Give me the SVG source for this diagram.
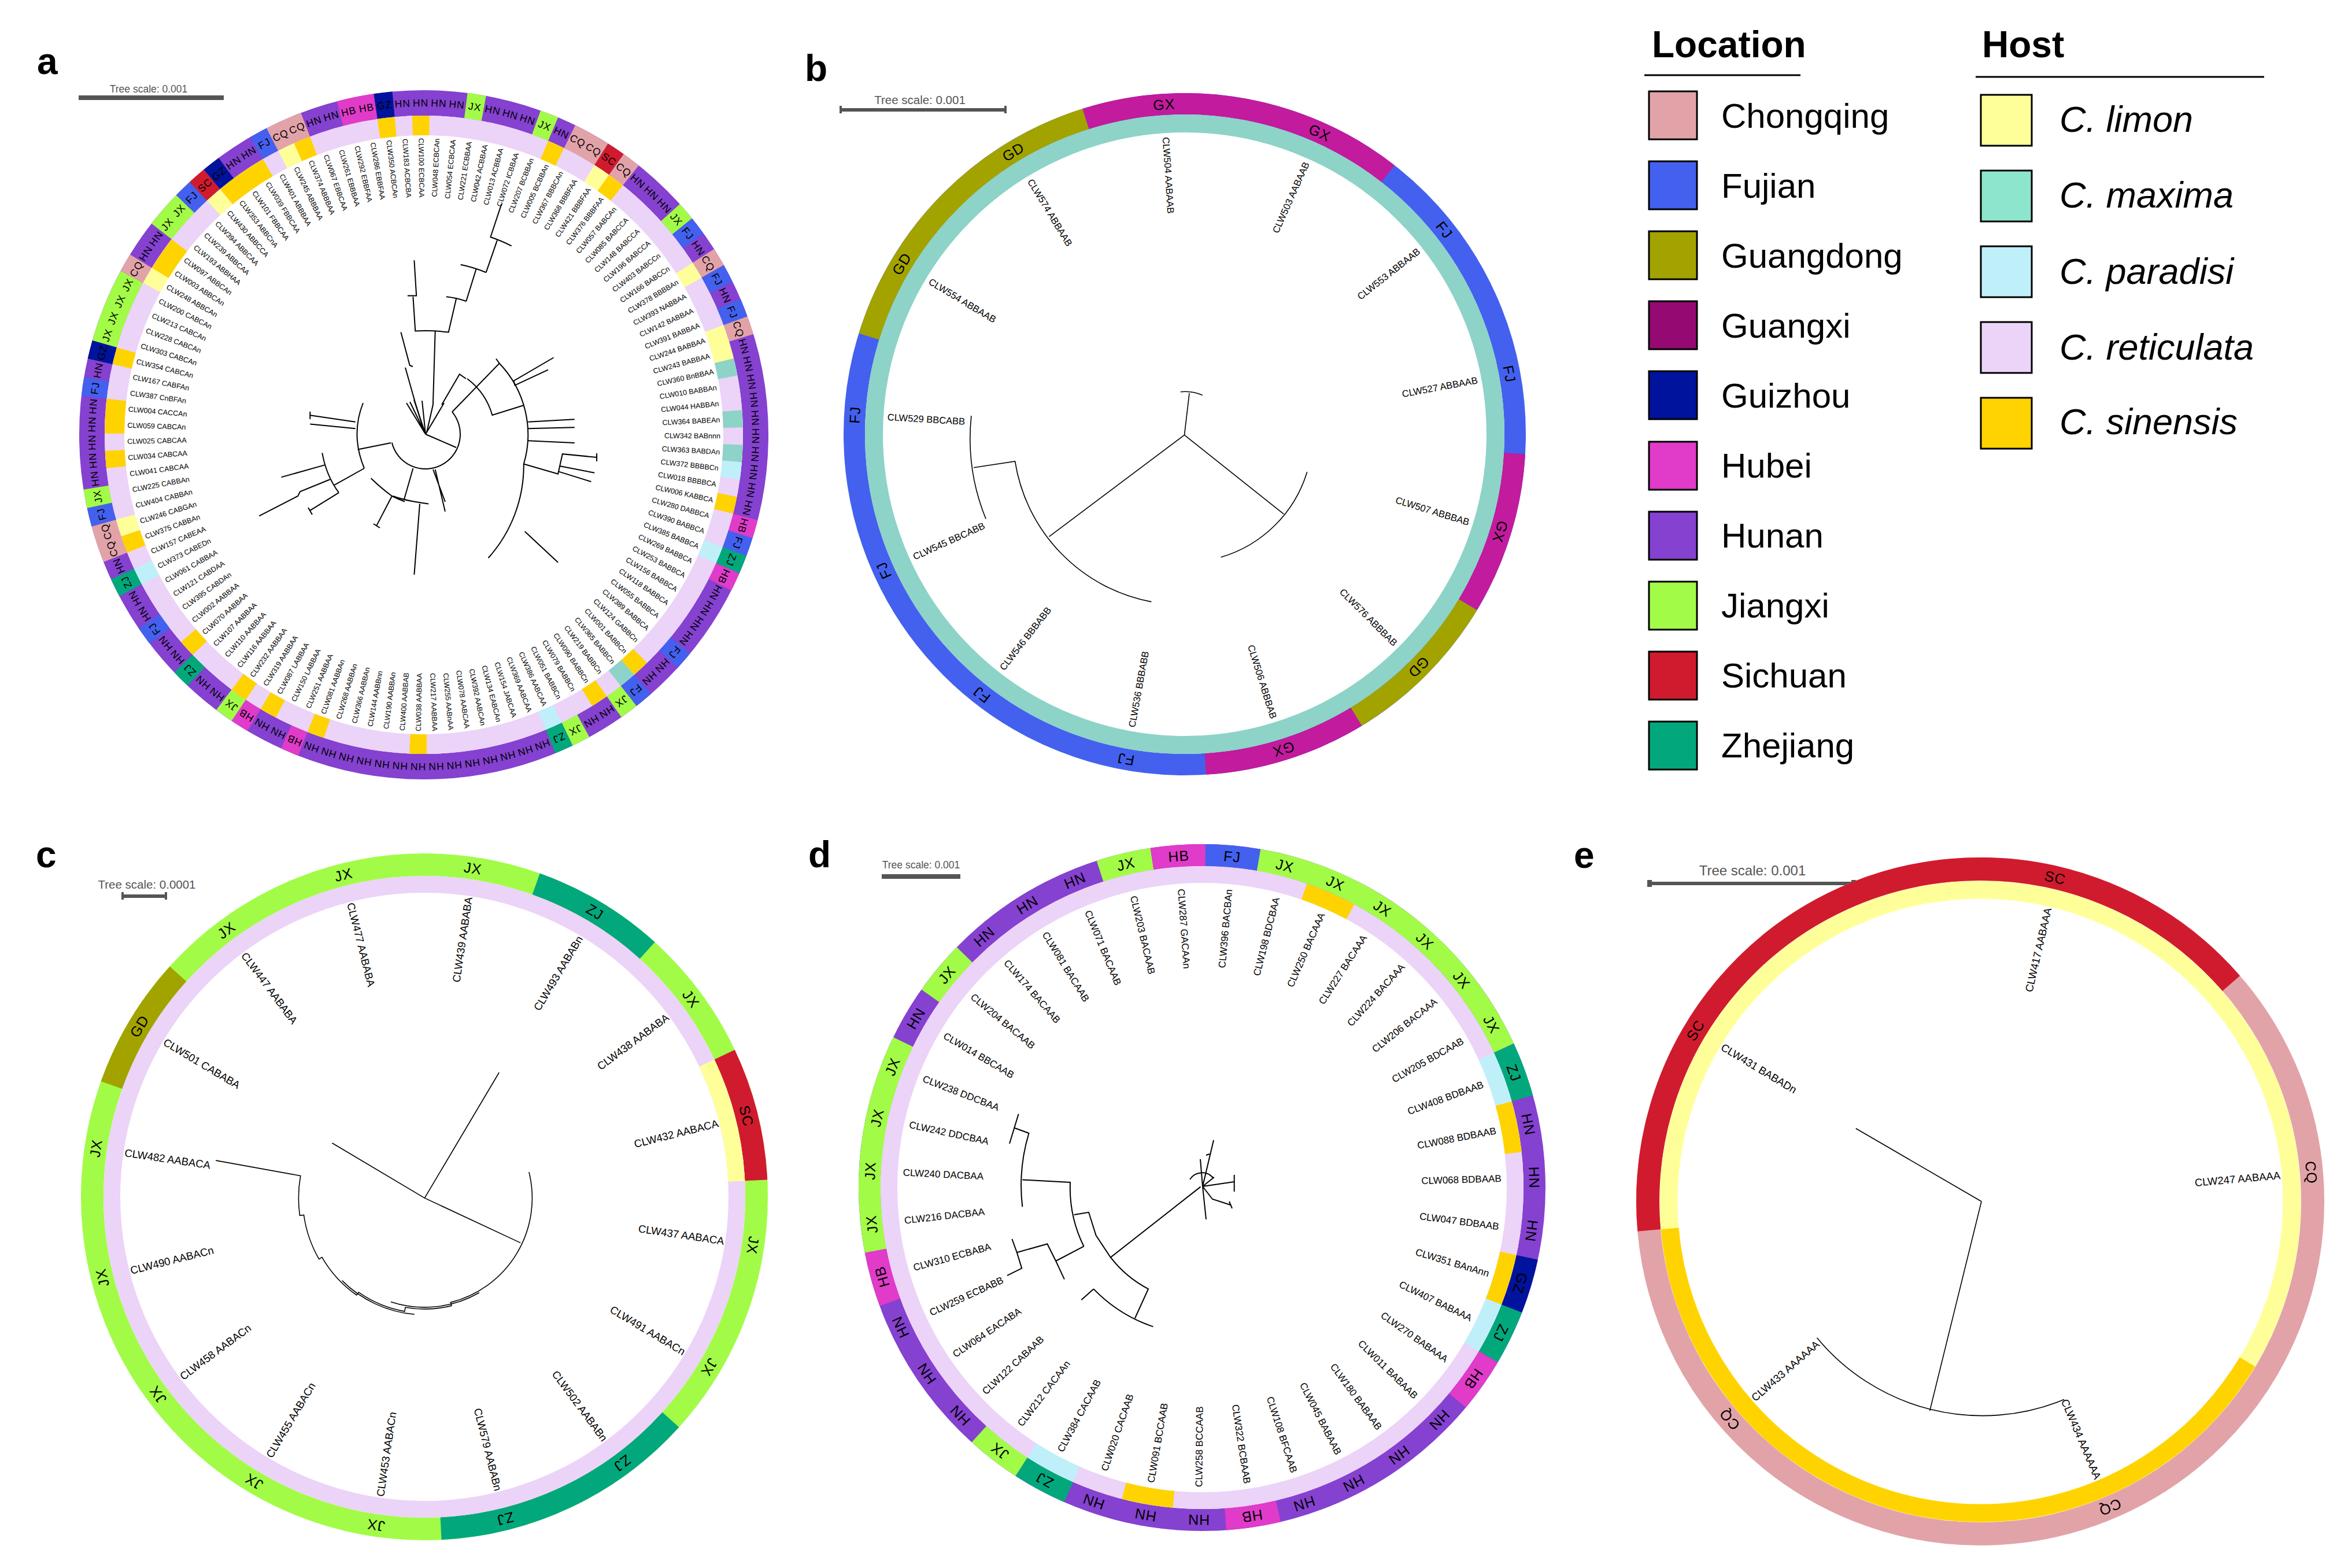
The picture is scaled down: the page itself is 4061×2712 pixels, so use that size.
<svg xmlns="http://www.w3.org/2000/svg" width="4061" height="2712" viewBox="0 0 4061 2712">
<style>
text{font-family:"Liberation Sans",Arial,Helvetica,sans-serif;fill:#000}
.la{font-size:12.5px;dominant-baseline:central}
.lb{font-size:16.5px;dominant-baseline:central}
.lc{font-size:18.5px;dominant-baseline:central}
.ld{font-size:17px;dominant-baseline:central}
.r{text-anchor:end}
.ra{font-size:17.5px;text-anchor:middle;dominant-baseline:central;letter-spacing:1px}
.rb{font-size:25px;text-anchor:middle;dominant-baseline:central;letter-spacing:1px}
.br{fill:none;stroke:#000;stroke-width:2}
.bt{fill:none;stroke:#000;stroke-width:1.6}
circle{fill:none}
.cq{stroke:#E2A3A8}.fj{stroke:#4361EE}.gd{stroke:#A3A300}.gx{stroke:#C21B9D}.gz{stroke:#00139C}
.hb{stroke:#E03BC9}.hn{stroke:#8541D0}.jx{stroke:#A2FC47}.sc{stroke:#D01B2E}.zj{stroke:#02A87B}
.li{stroke:#FFFF99}.ma{stroke:#8DD3C7}.pa{stroke:#BFF0FA}.re{stroke:#ECD3F8}.si{stroke:#FFD300}
.ts{fill:#555;text-anchor:middle}
.pl{font-size:64px;font-weight:bold}
.lg{font-size:60px}
.hg{font-size:63px;font-style:italic}
.sw{stroke:#000;stroke-width:3}
</style>

<g id="labels">
<text class="pl" x="64" y="128">a</text>
<text class="pl" x="1392" y="140">b</text>
<text class="pl" x="62" y="1500">c</text>
<text class="pl" x="1398" y="1500">d</text>
<text class="pl" x="2722" y="1501">e</text>
<text class="ts" x="257" y="160" font-size="17.5">Tree scale: 0.001</text>
<rect x="136" y="165" width="251" height="8" fill="#555"/>
<text class="ts" x="1591" y="180" font-size="20.5">Tree scale: 0.001</text>
<rect x="1453" y="187" width="288" height="6" fill="#555"/>
<rect x="1452" y="183" width="4" height="13" fill="#555"/><rect x="1737" y="183" width="4" height="13" fill="#555"/>
<text class="ts" x="254" y="1537" font-size="20.5">Tree scale: 0.0001</text>
<rect x="211" y="1547" width="77" height="6" fill="#555"/>
<rect x="210" y="1543" width="4" height="13" fill="#555"/><rect x="285" y="1543" width="4" height="13" fill="#555"/>
<text class="ts" x="1593" y="1502" font-size="17.5">Tree scale: 0.001</text>
<rect x="1525" y="1512" width="136" height="8" fill="#555"/>
<text class="ts" x="3031" y="1514" font-size="24">Tree scale: 0.001</text>
<rect x="2852" y="1525" width="355" height="6" fill="#555"/>
<rect x="2849" y="1522" width="8" height="12" fill="#555"/><rect x="3202" y="1522" width="8" height="12" fill="#555"/>
</g>

<g id="legend">
<text x="2857" y="99" font-size="64" font-weight="bold">Location</text>
<line x1="2844" y1="130" x2="3114" y2="130" stroke="#000" stroke-width="3"/>
<text x="3428" y="99" font-size="64" font-weight="bold">Host</text>
<line x1="3417" y1="133" x2="3916" y2="133" stroke="#000" stroke-width="3"/>
<rect class="sw" x="2852" y="158" width="83" height="83" fill="#E2A3A8"/><text class="lg" x="2977" y="221">Chongqing</text>
<rect class="sw" x="2852" y="279" width="83" height="83" fill="#4361EE"/><text class="lg" x="2977" y="342">Fujian</text>
<rect class="sw" x="2852" y="400" width="83" height="83" fill="#A3A300"/><text class="lg" x="2977" y="463">Guangdong</text>
<rect class="sw" x="2852" y="521" width="83" height="83" fill="#940A72"/><text class="lg" x="2977" y="584">Guangxi</text>
<rect class="sw" x="2852" y="642" width="83" height="83" fill="#00139C"/><text class="lg" x="2977" y="705">Guizhou</text>
<rect class="sw" x="2852" y="764" width="83" height="83" fill="#E03BC9"/><text class="lg" x="2977" y="826">Hubei</text>
<rect class="sw" x="2852" y="885" width="83" height="83" fill="#8541D0"/><text class="lg" x="2977" y="947">Hunan</text>
<rect class="sw" x="2852" y="1006" width="83" height="83" fill="#A2FC47"/><text class="lg" x="2977" y="1068">Jiangxi</text>
<rect class="sw" x="2852" y="1127" width="83" height="83" fill="#D01B2E"/><text class="lg" x="2977" y="1189">Sichuan</text>
<rect class="sw" x="2852" y="1248" width="83" height="83" fill="#02A87B"/><text class="lg" x="2977" y="1310">Zhejiang</text>
<rect class="sw" x="3426" y="164" width="88" height="88" fill="#FFFF99"/><text class="hg" x="3562" y="228">C. limon</text>
<rect class="sw" x="3426" y="295" width="88" height="88" fill="#8EE5CD"/><text class="hg" x="3562" y="359">C. maxima</text>
<rect class="sw" x="3426" y="426" width="88" height="88" fill="#BFF0FA"/><text class="hg" x="3562" y="491">C. paradisi</text>
<rect class="sw" x="3426" y="557" width="88" height="88" fill="#ECD3F8"/><text class="hg" x="3562" y="622">C. reticulata</text>
<rect class="sw" x="3426" y="688" width="88" height="88" fill="#FFD300"/><text class="hg" x="3562" y="751">C. sinensis</text>
</g>

<g id="panel-a" transform="translate(733 752)">
<g stroke-width="44">
<circle class="hn" r="574"/>
<circle class="gz" r="574" pathLength="360" stroke-dasharray="3.13 720" transform="rotate(-98.365)"/>
<circle class="jx" r="574" pathLength="360" stroke-dasharray="3.13 720" transform="rotate(-82.713)"/>
<circle class="jx" r="574" pathLength="360" stroke-dasharray="3.13 720" transform="rotate(-70.191)"/>
<circle class="cq" r="574" pathLength="360" stroke-dasharray="6.261 720" transform="rotate(-63.931)"/>
<circle class="sc" r="574" pathLength="360" stroke-dasharray="3.13 720" transform="rotate(-57.670)"/>
<circle class="cq" r="574" pathLength="360" stroke-dasharray="3.13 720" transform="rotate(-54.539)"/>
<circle class="jx" r="574" pathLength="360" stroke-dasharray="3.13 720" transform="rotate(-42.018)"/>
<circle class="fj" r="574" pathLength="360" stroke-dasharray="3.13 720" transform="rotate(-38.887)"/>
<circle class="cq" r="574" pathLength="360" stroke-dasharray="3.13 720" transform="rotate(-32.627)"/>
<circle class="fj" r="574" pathLength="360" stroke-dasharray="3.13 720" transform="rotate(-29.496)"/>
<circle class="fj" r="574" pathLength="360" stroke-dasharray="3.13 720" transform="rotate(-23.235)"/>
<circle class="cq" r="574" pathLength="360" stroke-dasharray="3.13 720" transform="rotate(-20.105)"/>
<circle class="hb" r="574" pathLength="360" stroke-dasharray="3.13 720" transform="rotate(14.329)"/>
<circle class="fj" r="574" pathLength="360" stroke-dasharray="3.13 720" transform="rotate(17.460)"/>
<circle class="zj" r="574" pathLength="360" stroke-dasharray="3.13 720" transform="rotate(20.591)"/>
<circle class="hb" r="574" pathLength="360" stroke-dasharray="3.13 720" transform="rotate(23.721)"/>
<circle class="fj" r="574" pathLength="360" stroke-dasharray="3.13 720" transform="rotate(39.373)"/>
<circle class="fj" r="574" pathLength="360" stroke-dasharray="3.13 720" transform="rotate(48.765)"/>
<circle class="jx" r="574" pathLength="360" stroke-dasharray="3.13 720" transform="rotate(51.895)"/>
<circle class="jx" r="574" pathLength="360" stroke-dasharray="3.13 720" transform="rotate(61.286)"/>
<circle class="zj" r="574" pathLength="360" stroke-dasharray="3.13 720" transform="rotate(64.417)"/>
<circle class="hb" r="574" pathLength="360" stroke-dasharray="3.13 720" transform="rotate(111.372)"/>
<circle class="hb" r="574" pathLength="360" stroke-dasharray="3.13 720" transform="rotate(120.763)"/>
<circle class="jx" r="574" pathLength="360" stroke-dasharray="3.13 720" transform="rotate(123.893)"/>
<circle class="zj" r="574" pathLength="360" stroke-dasharray="3.13 720" transform="rotate(133.285)"/>
<circle class="fj" r="574" pathLength="360" stroke-dasharray="3.13 720" transform="rotate(142.676)"/>
<circle class="zj" r="574" pathLength="360" stroke-dasharray="3.13 720" transform="rotate(152.067)"/>
<circle class="cq" r="574" pathLength="360" stroke-dasharray="6.261 720" transform="rotate(158.328)"/>
<circle class="fj" r="574" pathLength="360" stroke-dasharray="3.13 720" transform="rotate(164.589)"/>
<circle class="jx" r="574" pathLength="360" stroke-dasharray="3.13 720" transform="rotate(167.719)"/>
<circle class="fj" r="574" pathLength="360" stroke-dasharray="3.13 720" transform="rotate(186.501)"/>
<circle class="gz" r="574" pathLength="360" stroke-dasharray="3.13 720" transform="rotate(192.763)"/>
<circle class="jx" r="574" pathLength="360" stroke-dasharray="12.522 720" transform="rotate(195.893)"/>
<circle class="cq" r="574" pathLength="360" stroke-dasharray="3.13 720" transform="rotate(208.414)"/>
<circle class="jx" r="574" pathLength="360" stroke-dasharray="6.261 720" transform="rotate(217.806)"/>
<circle class="fj" r="574" pathLength="360" stroke-dasharray="3.13 720" transform="rotate(224.067)"/>
<circle class="sc" r="574" pathLength="360" stroke-dasharray="3.13 720" transform="rotate(227.197)"/>
<circle class="gz" r="574" pathLength="360" stroke-dasharray="3.13 720" transform="rotate(230.328)"/>
<circle class="fj" r="574" pathLength="360" stroke-dasharray="3.13 720" transform="rotate(239.719)"/>
<circle class="cq" r="574" pathLength="360" stroke-dasharray="6.261 720" transform="rotate(242.849)"/>
<circle class="hb" r="574" pathLength="360" stroke-dasharray="6.261 720" transform="rotate(255.371)"/>
</g>
<g stroke-width="34">
<circle class="re" r="535"/>
<circle class="si" r="535" pathLength="360" stroke-dasharray="3.13 720" transform="rotate(-98.365)"/>
<circle class="si" r="535" pathLength="360" stroke-dasharray="3.13 720" transform="rotate(-92.104)"/>
<circle class="si" r="535" pathLength="360" stroke-dasharray="3.13 720" transform="rotate(-67.061)"/>
<circle class="si" r="535" pathLength="360" stroke-dasharray="3.13 720" transform="rotate(-54.539)"/>
<circle class="si" r="535" pathLength="360" stroke-dasharray="3.13 720" transform="rotate(11.199)"/>
<circle class="si" r="535" pathLength="360" stroke-dasharray="3.13 720" transform="rotate(45.634)"/>
<circle class="si" r="535" pathLength="360" stroke-dasharray="3.13 720" transform="rotate(55.025)"/>
<circle class="si" r="535" pathLength="360" stroke-dasharray="3.13 720" transform="rotate(89.459)"/>
<circle class="si" r="535" pathLength="360" stroke-dasharray="3.13 720" transform="rotate(108.241)"/>
<circle class="si" r="535" pathLength="360" stroke-dasharray="3.13 720" transform="rotate(117.632)"/>
<circle class="si" r="535" pathLength="360" stroke-dasharray="3.13 720" transform="rotate(123.893)"/>
<circle class="si" r="535" pathLength="360" stroke-dasharray="3.13 720" transform="rotate(136.415)"/>
<circle class="si" r="535" pathLength="360" stroke-dasharray="3.13 720" transform="rotate(158.328)"/>
<circle class="si" r="535" pathLength="360" stroke-dasharray="3.13 720" transform="rotate(173.980)"/>
<circle class="si" r="535" pathLength="360" stroke-dasharray="6.261 720" transform="rotate(180.241)"/>
<circle class="si" r="535" pathLength="360" stroke-dasharray="3.13 720" transform="rotate(192.763)"/>
<circle class="si" r="535" pathLength="360" stroke-dasharray="6.261 720" transform="rotate(211.545)"/>
<circle class="si" r="535" pathLength="360" stroke-dasharray="9.391 720" transform="rotate(230.328)"/>
<circle class="si" r="535" pathLength="360" stroke-dasharray="3.13 720" transform="rotate(245.980)"/>
<circle class="li" r="535" pathLength="360" stroke-dasharray="3.13 720" transform="rotate(-57.670)"/>
<circle class="li" r="535" pathLength="360" stroke-dasharray="3.13 720" transform="rotate(-32.627)"/>
<circle class="li" r="535" pathLength="360" stroke-dasharray="6.261 720" transform="rotate(-20.105)"/>
<circle class="li" r="535" pathLength="360" stroke-dasharray="3.13 720" transform="rotate(161.458)"/>
<circle class="li" r="535" pathLength="360" stroke-dasharray="3.13 720" transform="rotate(208.414)"/>
<circle class="li" r="535" pathLength="360" stroke-dasharray="3.13 720" transform="rotate(227.197)"/>
<circle class="li" r="535" pathLength="360" stroke-dasharray="3.13 720" transform="rotate(242.849)"/>
<circle class="ma" r="535" pathLength="360" stroke-dasharray="3.13 720" transform="rotate(-13.844)"/>
<circle class="ma" r="535" pathLength="360" stroke-dasharray="3.13 720" transform="rotate(-4.453)"/>
<circle class="ma" r="535" pathLength="360" stroke-dasharray="3.13 720" transform="rotate(1.808)"/>
<circle class="ma" r="535" pathLength="360" stroke-dasharray="3.13 720" transform="rotate(48.765)"/>
<circle class="pa" r="535" pathLength="360" stroke-dasharray="3.13 720" transform="rotate(4.938)"/>
<circle class="pa" r="535" pathLength="360" stroke-dasharray="3.13 720" transform="rotate(20.591)"/>
<circle class="pa" r="535" pathLength="360" stroke-dasharray="3.13 720" transform="rotate(64.417)"/>
<circle class="pa" r="535" pathLength="360" stroke-dasharray="3.13 720" transform="rotate(152.067)"/>
</g>
<g id="leaves-a">
<g transform="rotate(-96.80)"><text class="la" transform="translate(513 0) rotate(180)">CLW350 ACBCAn</text><text class="ra" transform="translate(574 0) rotate(90)">GZ</text></g>
<g transform="rotate(-93.67)"><text class="la" transform="translate(513 0) rotate(180)">CLW183 ACBCBA</text><text class="ra" transform="translate(574 0) rotate(90)">HN</text></g>
<g transform="rotate(-90.54)"><text class="la" transform="translate(513 0) rotate(180)">CLW100 ECBCAA</text><text class="ra" transform="translate(574 0) rotate(90)">HN</text></g>
<g transform="rotate(-87.41)"><text class="la r" transform="translate(513 0)">CLW048 ECBCAn</text><text class="ra" transform="translate(574 0) rotate(90)">HN</text></g>
<g transform="rotate(-84.28)"><text class="la r" transform="translate(513 0)">CLW054 ECBCAA</text><text class="ra" transform="translate(574 0) rotate(90)">HN</text></g>
<g transform="rotate(-81.15)"><text class="la r" transform="translate(513 0)">CLW221 ECBBAA</text><text class="ra" transform="translate(574 0) rotate(90)">JX</text></g>
<g transform="rotate(-78.02)"><text class="la r" transform="translate(513 0)">CLW042 ACBBAA</text><text class="ra" transform="translate(574 0) rotate(90)">HN</text></g>
<g transform="rotate(-74.89)"><text class="la r" transform="translate(513 0)">CLW013 ACBBAA</text><text class="ra" transform="translate(574 0) rotate(90)">HN</text></g>
<g transform="rotate(-71.76)"><text class="la r" transform="translate(513 0)">CLW072 ICBBAA</text><text class="ra" transform="translate(574 0) rotate(90)">HN</text></g>
<g transform="rotate(-68.63)"><text class="la r" transform="translate(513 0)">CLW207 BCBBAn</text><text class="ra" transform="translate(574 0) rotate(90)">JX</text></g>
<g transform="rotate(-65.50)"><text class="la r" transform="translate(513 0)">CLW005 BCBBAn</text><text class="ra" transform="translate(574 0) rotate(90)">HN</text></g>
<g transform="rotate(-62.37)"><text class="la r" transform="translate(513 0)">CLW367 BBBCAn</text><text class="ra" transform="translate(574 0) rotate(90)">CQ</text></g>
<g transform="rotate(-59.24)"><text class="la r" transform="translate(513 0)">CLW368 BBBFAA</text><text class="ra" transform="translate(574 0) rotate(90)">CQ</text></g>
<g transform="rotate(-56.10)"><text class="la r" transform="translate(513 0)">CLW421 BBBFAA</text><text class="ra" transform="translate(574 0) rotate(90)">SC</text></g>
<g transform="rotate(-52.97)"><text class="la r" transform="translate(513 0)">CLW376 BBBFAA</text><text class="ra" transform="translate(574 0) rotate(90)">CQ</text></g>
<g transform="rotate(-49.84)"><text class="la r" transform="translate(513 0)">CLW057 BABCAn</text><text class="ra" transform="translate(574 0) rotate(90)">HN</text></g>
<g transform="rotate(-46.71)"><text class="la r" transform="translate(513 0)">CLW085 BABCCA</text><text class="ra" transform="translate(574 0) rotate(90)">HN</text></g>
<g transform="rotate(-43.58)"><text class="la r" transform="translate(513 0)">CLW148 BABCCA</text><text class="ra" transform="translate(574 0) rotate(90)">HN</text></g>
<g transform="rotate(-40.45)"><text class="la r" transform="translate(513 0)">CLW196 BABCCA</text><text class="ra" transform="translate(574 0) rotate(90)">JX</text></g>
<g transform="rotate(-37.32)"><text class="la r" transform="translate(513 0)">CLW403 BABCCn</text><text class="ra" transform="translate(574 0) rotate(90)">FJ</text></g>
<g transform="rotate(-34.19)"><text class="la r" transform="translate(513 0)">CLW166 BABCCn</text><text class="ra" transform="translate(574 0) rotate(90)">HN</text></g>
<g transform="rotate(-31.06)"><text class="la r" transform="translate(513 0)">CLW378 BBBBAn</text><text class="ra" transform="translate(574 0) rotate(90)">CQ</text></g>
<g transform="rotate(-27.93)"><text class="la r" transform="translate(513 0)">CLW393 NABBAA</text><text class="ra" transform="translate(574 0) rotate(90)">FJ</text></g>
<g transform="rotate(-24.80)"><text class="la r" transform="translate(513 0)">CLW142 BABBAA</text><text class="ra" transform="translate(574 0) rotate(90)">HN</text></g>
<g transform="rotate(-21.67)"><text class="la r" transform="translate(513 0)">CLW391 BABBAA</text><text class="ra" transform="translate(574 0) rotate(90)">FJ</text></g>
<g transform="rotate(-18.54)"><text class="la r" transform="translate(513 0)">CLW244 BABBAA</text><text class="ra" transform="translate(574 0) rotate(90)">CQ</text></g>
<g transform="rotate(-15.41)"><text class="la r" transform="translate(513 0)">CLW243 BABBAA</text><text class="ra" transform="translate(574 0) rotate(90)">HN</text></g>
<g transform="rotate(-12.28)"><text class="la r" transform="translate(513 0)">CLW360 BnBBAA</text><text class="ra" transform="translate(574 0) rotate(90)">HN</text></g>
<g transform="rotate(-9.15)"><text class="la r" transform="translate(513 0)">CLW010 BABBAn</text><text class="ra" transform="translate(574 0) rotate(90)">HN</text></g>
<g transform="rotate(-6.01)"><text class="la r" transform="translate(513 0)">CLW044 HABBAn</text><text class="ra" transform="translate(574 0) rotate(90)">HN</text></g>
<g transform="rotate(-2.88)"><text class="la r" transform="translate(513 0)">CLW364 BABEAn</text><text class="ra" transform="translate(574 0) rotate(90)">HN</text></g>
<g transform="rotate(0.25)"><text class="la r" transform="translate(513 0)">CLW342 BABnnn</text><text class="ra" transform="translate(574 0) rotate(90)">HN</text></g>
<g transform="rotate(3.38)"><text class="la r" transform="translate(513 0)">CLW363 BABDAn</text><text class="ra" transform="translate(574 0) rotate(90)">HN</text></g>
<g transform="rotate(6.51)"><text class="la r" transform="translate(513 0)">CLW372 BBBBCn</text><text class="ra" transform="translate(574 0) rotate(90)">HN</text></g>
<g transform="rotate(9.64)"><text class="la r" transform="translate(513 0)">CLW018 BBBBCA</text><text class="ra" transform="translate(574 0) rotate(90)">HN</text></g>
<g transform="rotate(12.77)"><text class="la r" transform="translate(513 0)">CLW006 KABBCA</text><text class="ra" transform="translate(574 0) rotate(90)">HN</text></g>
<g transform="rotate(15.90)"><text class="la r" transform="translate(513 0)">CLW280 DABBCA</text><text class="ra" transform="translate(574 0) rotate(90)">HB</text></g>
<g transform="rotate(19.03)"><text class="la r" transform="translate(513 0)">CLW390 BABBCA</text><text class="ra" transform="translate(574 0) rotate(90)">FJ</text></g>
<g transform="rotate(22.16)"><text class="la r" transform="translate(513 0)">CLW385 BABBCA</text><text class="ra" transform="translate(574 0) rotate(90)">ZJ</text></g>
<g transform="rotate(25.29)"><text class="la r" transform="translate(513 0)">CLW269 BABBCA</text><text class="ra" transform="translate(574 0) rotate(90)">HB</text></g>
<g transform="rotate(28.42)"><text class="la r" transform="translate(513 0)">CLW253 BABBCA</text><text class="ra" transform="translate(574 0) rotate(90)">HN</text></g>
<g transform="rotate(31.55)"><text class="la r" transform="translate(513 0)">CLW156 BABBCA</text><text class="ra" transform="translate(574 0) rotate(90)">HN</text></g>
<g transform="rotate(34.68)"><text class="la r" transform="translate(513 0)">CLW118 BABBCA</text><text class="ra" transform="translate(574 0) rotate(90)">HN</text></g>
<g transform="rotate(37.81)"><text class="la r" transform="translate(513 0)">CLW055 BABBCA</text><text class="ra" transform="translate(574 0) rotate(90)">HN</text></g>
<g transform="rotate(40.94)"><text class="la r" transform="translate(513 0)">CLW389 BABBCA</text><text class="ra" transform="translate(574 0) rotate(90)">FJ</text></g>
<g transform="rotate(44.07)"><text class="la r" transform="translate(513 0)">CLW124 GABBCn</text><text class="ra" transform="translate(574 0) rotate(90)">HN</text></g>
<g transform="rotate(47.20)"><text class="la r" transform="translate(513 0)">CLW001 BABBCn</text><text class="ra" transform="translate(574 0) rotate(90)">HN</text></g>
<g transform="rotate(50.33)"><text class="la r" transform="translate(513 0)">CLW365 BABBCn</text><text class="ra" transform="translate(574 0) rotate(90)">FJ</text></g>
<g transform="rotate(53.46)"><text class="la r" transform="translate(513 0)">CLW219 BABBCn</text><text class="ra" transform="translate(574 0) rotate(90)">JX</text></g>
<g transform="rotate(56.59)"><text class="la r" transform="translate(513 0)">CLW090 BABBCn</text><text class="ra" transform="translate(574 0) rotate(90)">HN</text></g>
<g transform="rotate(59.72)"><text class="la r" transform="translate(513 0)">CLW079 BABBCn</text><text class="ra" transform="translate(574 0) rotate(90)">HN</text></g>
<g transform="rotate(62.85)"><text class="la r" transform="translate(513 0)">CLW051 BABBCn</text><text class="ra" transform="translate(574 0) rotate(90)">JX</text></g>
<g transform="rotate(65.98)"><text class="la r" transform="translate(513 0)">CLW386 AABCAA</text><text class="ra" transform="translate(574 0) rotate(90)">ZJ</text></g>
<g transform="rotate(69.12)"><text class="la r" transform="translate(513 0)">CLW369 AABCAA</text><text class="ra" transform="translate(574 0) rotate(90)">HN</text></g>
<g transform="rotate(72.25)"><text class="la r" transform="translate(513 0)">CLW154 JABCAA</text><text class="ra" transform="translate(574 0) rotate(90)">HN</text></g>
<g transform="rotate(75.38)"><text class="la r" transform="translate(513 0)">CLW134 EABCAn</text><text class="ra" transform="translate(574 0) rotate(90)">HN</text></g>
<g transform="rotate(78.51)"><text class="la r" transform="translate(513 0)">CLW392 AABCAn</text><text class="ra" transform="translate(574 0) rotate(90)">HN</text></g>
<g transform="rotate(81.64)"><text class="la r" transform="translate(513 0)">CLW078 AABCAA</text><text class="ra" transform="translate(574 0) rotate(90)">HN</text></g>
<g transform="rotate(84.77)"><text class="la r" transform="translate(513 0)">CLW255 AABnAA</text><text class="ra" transform="translate(574 0) rotate(90)">HN</text></g>
<g transform="rotate(87.90)"><text class="la r" transform="translate(513 0)">CLW217 AABBAA</text><text class="ra" transform="translate(574 0) rotate(90)">HN</text></g>
<g transform="rotate(91.03)"><text class="la" transform="translate(513 0) rotate(180)">CLW038 AABBAA</text><text class="ra" transform="translate(574 0) rotate(90)">HN</text></g>
<g transform="rotate(94.16)"><text class="la" transform="translate(513 0) rotate(180)">CLW400 AABBAB</text><text class="ra" transform="translate(574 0) rotate(90)">HN</text></g>
<g transform="rotate(97.29)"><text class="la" transform="translate(513 0) rotate(180)">CLW190 AABBAn</text><text class="ra" transform="translate(574 0) rotate(90)">HN</text></g>
<g transform="rotate(100.42)"><text class="la" transform="translate(513 0) rotate(180)">CLW144 AABBnn</text><text class="ra" transform="translate(574 0) rotate(90)">HN</text></g>
<g transform="rotate(103.55)"><text class="la" transform="translate(513 0) rotate(180)">CLW366 AABBAn</text><text class="ra" transform="translate(574 0) rotate(90)">HN</text></g>
<g transform="rotate(106.68)"><text class="la" transform="translate(513 0) rotate(180)">CLW268 AABBAn</text><text class="ra" transform="translate(574 0) rotate(90)">HN</text></g>
<g transform="rotate(109.81)"><text class="la" transform="translate(513 0) rotate(180)">CLW081 AABBAn</text><text class="ra" transform="translate(574 0) rotate(90)">HN</text></g>
<g transform="rotate(112.94)"><text class="la" transform="translate(513 0) rotate(180)">CLW251 AABBAA</text><text class="ra" transform="translate(574 0) rotate(90)">HB</text></g>
<g transform="rotate(116.07)"><text class="la" transform="translate(513 0) rotate(180)">CLW150 LABBAA</text><text class="ra" transform="translate(574 0) rotate(90)">HN</text></g>
<g transform="rotate(119.20)"><text class="la" transform="translate(513 0) rotate(180)">CLW087 LABBAA</text><text class="ra" transform="translate(574 0) rotate(90)">HN</text></g>
<g transform="rotate(122.33)"><text class="la" transform="translate(513 0) rotate(180)">CLW319 AABBAA</text><text class="ra" transform="translate(574 0) rotate(90)">HB</text></g>
<g transform="rotate(125.46)"><text class="la" transform="translate(513 0) rotate(180)">CLW232 AABBAA</text><text class="ra" transform="translate(574 0) rotate(90)">JX</text></g>
<g transform="rotate(128.59)"><text class="la" transform="translate(513 0) rotate(180)">CLW116 AABBAA</text><text class="ra" transform="translate(574 0) rotate(90)">HN</text></g>
<g transform="rotate(131.72)"><text class="la" transform="translate(513 0) rotate(180)">CLW110 AABBAA</text><text class="ra" transform="translate(574 0) rotate(90)">HN</text></g>
<g transform="rotate(134.85)"><text class="la" transform="translate(513 0) rotate(180)">CLW107 AABBAA</text><text class="ra" transform="translate(574 0) rotate(90)">ZJ</text></g>
<g transform="rotate(137.98)"><text class="la" transform="translate(513 0) rotate(180)">CLW070 AABBAA</text><text class="ra" transform="translate(574 0) rotate(90)">HN</text></g>
<g transform="rotate(141.11)"><text class="la" transform="translate(513 0) rotate(180)">CLW002 AABBAA</text><text class="ra" transform="translate(574 0) rotate(90)">HN</text></g>
<g transform="rotate(144.24)"><text class="la" transform="translate(513 0) rotate(180)">CLW395 CABDAn</text><text class="ra" transform="translate(574 0) rotate(90)">FJ</text></g>
<g transform="rotate(147.37)"><text class="la" transform="translate(513 0) rotate(180)">CLW121 CABDAA</text><text class="ra" transform="translate(574 0) rotate(90)">HN</text></g>
<g transform="rotate(150.50)"><text class="la" transform="translate(513 0) rotate(180)">CLW061 CABBAA</text><text class="ra" transform="translate(574 0) rotate(90)">HN</text></g>
<g transform="rotate(153.63)"><text class="la" transform="translate(513 0) rotate(180)">CLW373 CABEDn</text><text class="ra" transform="translate(574 0) rotate(90)">ZJ</text></g>
<g transform="rotate(156.76)"><text class="la" transform="translate(513 0) rotate(180)">CLW157 CABEAA</text><text class="ra" transform="translate(574 0) rotate(90)">HN</text></g>
<g transform="rotate(159.89)"><text class="la" transform="translate(513 0) rotate(180)">CLW375 CABBAn</text><text class="ra" transform="translate(574 0) rotate(90)">CQ</text></g>
<g transform="rotate(163.03)"><text class="la" transform="translate(513 0) rotate(180)">CLW246 CABGAn</text><text class="ra" transform="translate(574 0) rotate(90)">CQ</text></g>
<g transform="rotate(166.16)"><text class="la" transform="translate(513 0) rotate(180)">CLW404 CABBAn</text><text class="ra" transform="translate(574 0) rotate(90)">FJ</text></g>
<g transform="rotate(169.29)"><text class="la" transform="translate(513 0) rotate(180)">CLW225 CABBAn</text><text class="ra" transform="translate(574 0) rotate(90)">JX</text></g>
<g transform="rotate(172.42)"><text class="la" transform="translate(513 0) rotate(180)">CLW041 CABCAA</text><text class="ra" transform="translate(574 0) rotate(90)">HN</text></g>
<g transform="rotate(175.55)"><text class="la" transform="translate(513 0) rotate(180)">CLW034 CABCAA</text><text class="ra" transform="translate(574 0) rotate(90)">HN</text></g>
<g transform="rotate(178.68)"><text class="la" transform="translate(513 0) rotate(180)">CLW025 CABCAA</text><text class="ra" transform="translate(574 0) rotate(90)">HN</text></g>
<g transform="rotate(181.81)"><text class="la" transform="translate(513 0) rotate(180)">CLW059 CABCAn</text><text class="ra" transform="translate(574 0) rotate(90)">HN</text></g>
<g transform="rotate(184.94)"><text class="la" transform="translate(513 0) rotate(180)">CLW004 CACCAn</text><text class="ra" transform="translate(574 0) rotate(90)">HN</text></g>
<g transform="rotate(188.07)"><text class="la" transform="translate(513 0) rotate(180)">CLW387 CnBFAn</text><text class="ra" transform="translate(574 0) rotate(90)">FJ</text></g>
<g transform="rotate(191.20)"><text class="la" transform="translate(513 0) rotate(180)">CLW167 CABFAn</text><text class="ra" transform="translate(574 0) rotate(90)">HN</text></g>
<g transform="rotate(194.33)"><text class="la" transform="translate(513 0) rotate(180)">CLW354 CABCAn</text><text class="ra" transform="translate(574 0) rotate(90)">GZ</text></g>
<g transform="rotate(197.46)"><text class="la" transform="translate(513 0) rotate(180)">CLW303 CABCAn</text><text class="ra" transform="translate(574 0) rotate(90)">JX</text></g>
<g transform="rotate(200.59)"><text class="la" transform="translate(513 0) rotate(180)">CLW228 CABCAn</text><text class="ra" transform="translate(574 0) rotate(90)">JX</text></g>
<g transform="rotate(203.72)"><text class="la" transform="translate(513 0) rotate(180)">CLW213 CABCAn</text><text class="ra" transform="translate(574 0) rotate(90)">JX</text></g>
<g transform="rotate(206.85)"><text class="la" transform="translate(513 0) rotate(180)">CLW200 CABCAn</text><text class="ra" transform="translate(574 0) rotate(90)">JX</text></g>
<g transform="rotate(209.98)"><text class="la" transform="translate(513 0) rotate(180)">CLW248 ABBCAn</text><text class="ra" transform="translate(574 0) rotate(90)">CQ</text></g>
<g transform="rotate(213.11)"><text class="la" transform="translate(513 0) rotate(180)">CLW003 ABBCAn</text><text class="ra" transform="translate(574 0) rotate(90)">HN</text></g>
<g transform="rotate(216.24)"><text class="la" transform="translate(513 0) rotate(180)">CLW097 ABBCAn</text><text class="ra" transform="translate(574 0) rotate(90)">HN</text></g>
<g transform="rotate(219.37)"><text class="la" transform="translate(513 0) rotate(180)">CLW193 ABBHAA</text><text class="ra" transform="translate(574 0) rotate(90)">JX</text></g>
<g transform="rotate(222.50)"><text class="la" transform="translate(513 0) rotate(180)">CLW239 ABBCAA</text><text class="ra" transform="translate(574 0) rotate(90)">JX</text></g>
<g transform="rotate(225.63)"><text class="la" transform="translate(513 0) rotate(180)">CLW394 ABBCAA</text><text class="ra" transform="translate(574 0) rotate(90)">FJ</text></g>
<g transform="rotate(228.77)"><text class="la" transform="translate(513 0) rotate(180)">CLW430 ABBCCA</text><text class="ra" transform="translate(574 0) rotate(90)">SC</text></g>
<g transform="rotate(231.90)"><text class="la" transform="translate(513 0) rotate(180)">CLW353 ABBCnA</text><text class="ra" transform="translate(574 0) rotate(90)">GZ</text></g>
<g transform="rotate(235.03)"><text class="la" transform="translate(513 0) rotate(180)">CLW101 FBBCAA</text><text class="ra" transform="translate(574 0) rotate(90)">HN</text></g>
<g transform="rotate(238.16)"><text class="la" transform="translate(513 0) rotate(180)">CLW039 FBBCAA</text><text class="ra" transform="translate(574 0) rotate(90)">HN</text></g>
<g transform="rotate(241.29)"><text class="la" transform="translate(513 0) rotate(180)">CLW401 ABBBAA</text><text class="ra" transform="translate(574 0) rotate(90)">FJ</text></g>
<g transform="rotate(244.42)"><text class="la" transform="translate(513 0) rotate(180)">CLW245 ABBBAA</text><text class="ra" transform="translate(574 0) rotate(90)">CQ</text></g>
<g transform="rotate(247.55)"><text class="la" transform="translate(513 0) rotate(180)">CLW374 ABBBAA</text><text class="ra" transform="translate(574 0) rotate(90)">CQ</text></g>
<g transform="rotate(250.68)"><text class="la" transform="translate(513 0) rotate(180)">CLW067 EBBCAA</text><text class="ra" transform="translate(574 0) rotate(90)">HN</text></g>
<g transform="rotate(253.81)"><text class="la" transform="translate(513 0) rotate(180)">CLW261 EBBBAA</text><text class="ra" transform="translate(574 0) rotate(90)">HN</text></g>
<g transform="rotate(256.94)"><text class="la" transform="translate(513 0) rotate(180)">CLW292 EBBFAA</text><text class="ra" transform="translate(574 0) rotate(90)">HB</text></g>
<g transform="rotate(260.07)"><text class="la" transform="translate(513 0) rotate(180)">CLW286 EBBFAA</text><text class="ra" transform="translate(574 0) rotate(90)">HB</text></g>
</g>
</g>

<g id="panel-b" transform="translate(2049 751)">
<g stroke-width="37">
<circle class="fj" r="571.5"/>
<circle class="gx" r="571.5" pathLength="360" stroke-dasharray="27.692 720" transform="rotate(3.346)"/>
<circle class="gd" r="571.5" pathLength="360" stroke-dasharray="27.692 720" transform="rotate(31.038)"/>
<circle class="gx" r="571.5" pathLength="360" stroke-dasharray="27.692 720" transform="rotate(58.731)"/>
<circle class="gd" r="571.5" pathLength="360" stroke-dasharray="55.385 720" transform="rotate(197.192)"/>
<circle class="gx" r="571.5" pathLength="360" stroke-dasharray="55.385 720" transform="rotate(252.577)"/>
</g>
<circle class="ma" r="537.5" stroke-width="31"/>
<g id="leaves-b">
<g transform="rotate(-10.5)"><text class="lb r" transform="translate(515 0)">CLW527 ABBAAB</text><text class="rb" transform="translate(571.5 0) rotate(90)">FJ</text></g>
<g transform="rotate(17.19)"><text class="lb r" transform="translate(515 0)">CLW507 ABBBAB</text><text class="rb" transform="translate(571.5 0) rotate(90)">GX</text></g>
<g transform="rotate(44.88)"><text class="lb r" transform="translate(515 0)">CLW576 ABBBAB</text><text class="rb" transform="translate(571.5 0) rotate(90)">GD</text></g>
<g transform="rotate(72.58)"><text class="lb r" transform="translate(515 0)">CLW506 ABBBAB</text><text class="rb" transform="translate(571.5 0) rotate(90)">GX</text></g>
<g transform="rotate(100.27)"><text class="lb" transform="translate(515 0) rotate(180)">CLW536 BBBABB</text><text class="rb" transform="translate(571.5 0) rotate(90)">FJ</text></g>
<g transform="rotate(127.96)"><text class="lb" transform="translate(515 0) rotate(180)">CLW546 BBBABB</text><text class="rb" transform="translate(571.5 0) rotate(90)">FJ</text></g>
<g transform="rotate(155.65)"><text class="lb" transform="translate(515 0) rotate(180)">CLW545 BBCABB</text><text class="rb" transform="translate(571.5 0) rotate(90)">FJ</text></g>
<g transform="rotate(183.35)"><text class="lb" transform="translate(515 0) rotate(180)">CLW529 BBCABB</text><text class="rb" transform="translate(571.5 0) rotate(90)">FJ</text></g>
<g transform="rotate(211.04)"><text class="lb" transform="translate(515 0) rotate(180)">CLW554 ABBAAB</text><text class="rb" transform="translate(571.5 0) rotate(90)">GD</text></g>
<g transform="rotate(238.73)"><text class="lb" transform="translate(515 0) rotate(180)">CLW574 ABBAAB</text><text class="rb" transform="translate(571.5 0) rotate(90)">GD</text></g>
<g transform="rotate(266.42)"><text class="lb" transform="translate(515 0) rotate(180)">CLW504 AABAAB</text><text class="rb" transform="translate(571.5 0) rotate(90)">GX</text></g>
<g transform="rotate(-65.88)"><text class="lb r" transform="translate(515 0)">CLW503 AABAAB</text><text class="rb" transform="translate(571.5 0) rotate(90)">GX</text></g>
<g transform="rotate(-38.19)"><text class="lb r" transform="translate(515 0)">CLW553 ABBAAB</text><text class="rb" transform="translate(571.5 0) rotate(90)">FJ</text></g>
</g>
</g>

<g id="panel-c" transform="translate(734 2070)">
<g stroke-width="39">
<circle class="jx" r="574.5"/>
<circle class="zj" r="574.5" pathLength="360" stroke-dasharray="45 720" transform="rotate(42.15)"/>
<circle class="gd" r="574.5" pathLength="360" stroke-dasharray="22.5 720" transform="rotate(199.65)"/>
<circle class="zj" r="574.5" pathLength="360" stroke-dasharray="22.5 720" transform="rotate(289.65)"/>
<circle class="sc" r="574.5" pathLength="360" stroke-dasharray="22.5 720" transform="rotate(334.65)"/>
</g>
<g stroke-width="29">
<circle class="re" r="540.5"/>
<circle class="li" r="540.5" pathLength="360" stroke-dasharray="22.5 720" transform="rotate(334.65)"/>
</g>
<g id="leaves-c">
<g transform="rotate(8.4)"><text class="lc r" transform="translate(524 0)">CLW437 AABACA</text><text class="rb" transform="translate(574.5 0) rotate(90)">JX</text></g>
<g transform="rotate(30.9)"><text class="lc r" transform="translate(524 0)">CLW491 AABACn</text><text class="rb" transform="translate(574.5 0) rotate(90)">JX</text></g>
<g transform="rotate(53.4)"><text class="lc r" transform="translate(524 0)">CLW502 AABABn</text><text class="rb" transform="translate(574.5 0) rotate(90)">ZJ</text></g>
<g transform="rotate(75.9)"><text class="lc r" transform="translate(524 0)">CLW579 AABABn</text><text class="rb" transform="translate(574.5 0) rotate(90)">ZJ</text></g>
<g transform="rotate(98.4)"><text class="lc" transform="translate(524 0) rotate(180)">CLW453 AABACn</text><text class="rb" transform="translate(574.5 0) rotate(90)">JX</text></g>
<g transform="rotate(120.9)"><text class="lc" transform="translate(524 0) rotate(180)">CLW455 AABACn</text><text class="rb" transform="translate(574.5 0) rotate(90)">JX</text></g>
<g transform="rotate(143.4)"><text class="lc" transform="translate(524 0) rotate(180)">CLW458 AABACn</text><text class="rb" transform="translate(574.5 0) rotate(90)">JX</text></g>
<g transform="rotate(165.9)"><text class="lc" transform="translate(524 0) rotate(180)">CLW490 AABACn</text><text class="rb" transform="translate(574.5 0) rotate(90)">JX</text></g>
<g transform="rotate(188.4)"><text class="lc" transform="translate(524 0) rotate(180)">CLW482 AABACA</text><text class="rb" transform="translate(574.5 0) rotate(90)">JX</text></g>
<g transform="rotate(210.9)"><text class="lc" transform="translate(524 0) rotate(180)">CLW501 CABABA</text><text class="rb" transform="translate(574.5 0) rotate(90)">GD</text></g>
<g transform="rotate(233.4)"><text class="lc" transform="translate(524 0) rotate(180)">CLW447 AABABA</text><text class="rb" transform="translate(574.5 0) rotate(90)">JX</text></g>
<g transform="rotate(255.9)"><text class="lc" transform="translate(524 0) rotate(180)">CLW477 AABABA</text><text class="rb" transform="translate(574.5 0) rotate(90)">JX</text></g>
<g transform="rotate(-81.6)"><text class="lc r" transform="translate(524 0)">CLW439 AABABA</text><text class="rb" transform="translate(574.5 0) rotate(90)">JX</text></g>
<g transform="rotate(-59.1)"><text class="lc r" transform="translate(524 0)">CLW493 AABABn</text><text class="rb" transform="translate(574.5 0) rotate(90)">ZJ</text></g>
<g transform="rotate(-36.6)"><text class="lc r" transform="translate(524 0)">CLW438 AABABA</text><text class="rb" transform="translate(574.5 0) rotate(90)">JX</text></g>
<g transform="rotate(-14.1)"><text class="lc r" transform="translate(524 0)">CLW432 AABACA</text><text class="rb" transform="translate(574.5 0) rotate(90)">SC</text></g>
</g>
</g>

<g id="panel-d" transform="translate(2079 2054)">
<g stroke-width="38">
<circle class="hn" r="575"/>
<circle class="fj" r="575" pathLength="360" stroke-dasharray="9.231 720" transform="rotate(-89.415)"/>
<circle class="jx" r="575" pathLength="360" stroke-dasharray="55.385 720" transform="rotate(-80.184)"/>
<circle class="zj" r="575" pathLength="360" stroke-dasharray="9.231 720" transform="rotate(-24.799)"/>
<circle class="gz" r="575" pathLength="360" stroke-dasharray="9.231 720" transform="rotate(12.124)"/>
<circle class="zj" r="575" pathLength="360" stroke-dasharray="9.231 720" transform="rotate(21.355)"/>
<circle class="hb" r="575" pathLength="360" stroke-dasharray="9.231 720" transform="rotate(30.585)"/>
<circle class="hb" r="575" pathLength="360" stroke-dasharray="9.231 720" transform="rotate(76.739)"/>
<circle class="zj" r="575" pathLength="360" stroke-dasharray="9.231 720" transform="rotate(113.663)"/>
<circle class="jx" r="575" pathLength="360" stroke-dasharray="9.231 720" transform="rotate(122.893)"/>
<circle class="hb" r="575" pathLength="360" stroke-dasharray="9.231 720" transform="rotate(159.817)"/>
<circle class="jx" r="575" pathLength="360" stroke-dasharray="36.923 720" transform="rotate(169.048)"/>
<circle class="jx" r="575" pathLength="360" stroke-dasharray="9.231 720" transform="rotate(215.201)"/>
<circle class="jx" r="575" pathLength="360" stroke-dasharray="9.231 720" transform="rotate(252.125)"/>
<circle class="hb" r="575" pathLength="360" stroke-dasharray="9.231 720" transform="rotate(261.355)"/>
</g>
<g stroke-width="29">
<circle class="re" r="541.5"/>
<circle class="si" r="541.5" pathLength="360" stroke-dasharray="9.231 720" transform="rotate(-70.953)"/>
<circle class="si" r="541.5" pathLength="360" stroke-dasharray="9.231 720" transform="rotate(-15.569)"/>
<circle class="si" r="541.5" pathLength="360" stroke-dasharray="9.231 720" transform="rotate(12.124)"/>
<circle class="si" r="541.5" pathLength="360" stroke-dasharray="9.231 720" transform="rotate(95.201)"/>
<circle class="pa" r="541.5" pathLength="360" stroke-dasharray="9.231 720" transform="rotate(-24.799)"/>
<circle class="pa" r="541.5" pathLength="360" stroke-dasharray="9.231 720" transform="rotate(21.355)"/>
<circle class="pa" r="541.5" pathLength="360" stroke-dasharray="9.231 720" transform="rotate(113.663)"/>
</g>
<g id="leaves-d">
<g transform="rotate(-84.80)"><text class="ld r" transform="translate(518 0)">CLW396 BACBAn</text><text class="rb" transform="translate(575 0) rotate(90)">FJ</text></g>
<g transform="rotate(-75.57)"><text class="ld r" transform="translate(518 0)">CLW198 BDCBAA</text><text class="rb" transform="translate(575 0) rotate(90)">JX</text></g>
<g transform="rotate(-66.34)"><text class="ld r" transform="translate(518 0)">CLW250 BACAAA</text><text class="rb" transform="translate(575 0) rotate(90)">JX</text></g>
<g transform="rotate(-57.11)"><text class="ld r" transform="translate(518 0)">CLW227 BACAAA</text><text class="rb" transform="translate(575 0) rotate(90)">JX</text></g>
<g transform="rotate(-47.88)"><text class="ld r" transform="translate(518 0)">CLW224 BACAAA</text><text class="rb" transform="translate(575 0) rotate(90)">JX</text></g>
<g transform="rotate(-38.65)"><text class="ld r" transform="translate(518 0)">CLW206 BACAAA</text><text class="rb" transform="translate(575 0) rotate(90)">JX</text></g>
<g transform="rotate(-29.42)"><text class="ld r" transform="translate(518 0)">CLW205 BDCAAB</text><text class="rb" transform="translate(575 0) rotate(90)">JX</text></g>
<g transform="rotate(-20.18)"><text class="ld r" transform="translate(518 0)">CLW408 BDBAAB</text><text class="rb" transform="translate(575 0) rotate(90)">ZJ</text></g>
<g transform="rotate(-10.95)"><text class="ld r" transform="translate(518 0)">CLW088 BDBAAB</text><text class="rb" transform="translate(575 0) rotate(90)">HN</text></g>
<g transform="rotate(-1.72)"><text class="ld r" transform="translate(518 0)">CLW068 BDBAAB</text><text class="rb" transform="translate(575 0) rotate(90)">HN</text></g>
<g transform="rotate(7.51)"><text class="ld r" transform="translate(518 0)">CLW047 BDBAAB</text><text class="rb" transform="translate(575 0) rotate(90)">HN</text></g>
<g transform="rotate(16.74)"><text class="ld r" transform="translate(518 0)">CLW351 BAnAnn</text><text class="rb" transform="translate(575 0) rotate(90)">GZ</text></g>
<g transform="rotate(25.97)"><text class="ld r" transform="translate(518 0)">CLW407 BABAAA</text><text class="rb" transform="translate(575 0) rotate(90)">ZJ</text></g>
<g transform="rotate(35.20)"><text class="ld r" transform="translate(518 0)">CLW270 BABAAA</text><text class="rb" transform="translate(575 0) rotate(90)">HB</text></g>
<g transform="rotate(44.43)"><text class="ld r" transform="translate(518 0)">CLW011 BABAAB</text><text class="rb" transform="translate(575 0) rotate(90)">HN</text></g>
<g transform="rotate(53.66)"><text class="ld r" transform="translate(518 0)">CLW180 BABAAB</text><text class="rb" transform="translate(575 0) rotate(90)">HN</text></g>
<g transform="rotate(62.89)"><text class="ld r" transform="translate(518 0)">CLW045 BABAAB</text><text class="rb" transform="translate(575 0) rotate(90)">HN</text></g>
<g transform="rotate(72.12)"><text class="ld r" transform="translate(518 0)">CLW108 BFCAAB</text><text class="rb" transform="translate(575 0) rotate(90)">HN</text></g>
<g transform="rotate(81.35)"><text class="ld r" transform="translate(518 0)">CLW322 BCBAAB</text><text class="rb" transform="translate(575 0) rotate(90)">HB</text></g>
<g transform="rotate(90.59)"><text class="ld" transform="translate(518 0) rotate(180)">CLW258 BCCAAB</text><text class="rb" transform="translate(575 0) rotate(90)">HN</text></g>
<g transform="rotate(99.82)"><text class="ld" transform="translate(518 0) rotate(180)">CLW091 BCCAAB</text><text class="rb" transform="translate(575 0) rotate(90)">HN</text></g>
<g transform="rotate(109.05)"><text class="ld" transform="translate(518 0) rotate(180)">CLW020 CACAAB</text><text class="rb" transform="translate(575 0) rotate(90)">HN</text></g>
<g transform="rotate(118.28)"><text class="ld" transform="translate(518 0) rotate(180)">CLW384 CACAAB</text><text class="rb" transform="translate(575 0) rotate(90)">ZJ</text></g>
<g transform="rotate(127.51)"><text class="ld" transform="translate(518 0) rotate(180)">CLW212 CACAAn</text><text class="rb" transform="translate(575 0) rotate(90)">JX</text></g>
<g transform="rotate(136.74)"><text class="ld" transform="translate(518 0) rotate(180)">CLW122 CABAAB</text><text class="rb" transform="translate(575 0) rotate(90)">HN</text></g>
<g transform="rotate(145.97)"><text class="ld" transform="translate(518 0) rotate(180)">CLW064 EACABA</text><text class="rb" transform="translate(575 0) rotate(90)">HN</text></g>
<g transform="rotate(155.20)"><text class="ld" transform="translate(518 0) rotate(180)">CLW259 ECBABB</text><text class="rb" transform="translate(575 0) rotate(90)">HN</text></g>
<g transform="rotate(164.43)"><text class="ld" transform="translate(518 0) rotate(180)">CLW310 ECBABA</text><text class="rb" transform="translate(575 0) rotate(90)">HB</text></g>
<g transform="rotate(173.66)"><text class="ld" transform="translate(518 0) rotate(180)">CLW216 DACBAA</text><text class="rb" transform="translate(575 0) rotate(90)">JX</text></g>
<g transform="rotate(182.89)"><text class="ld" transform="translate(518 0) rotate(180)">CLW240 DACBAA</text><text class="rb" transform="translate(575 0) rotate(90)">JX</text></g>
<g transform="rotate(192.12)"><text class="ld" transform="translate(518 0) rotate(180)">CLW242 DDCBAA</text><text class="rb" transform="translate(575 0) rotate(90)">JX</text></g>
<g transform="rotate(201.35)"><text class="ld" transform="translate(518 0) rotate(180)">CLW238 DDCBAA</text><text class="rb" transform="translate(575 0) rotate(90)">JX</text></g>
<g transform="rotate(210.59)"><text class="ld" transform="translate(518 0) rotate(180)">CLW014 BBCAAB</text><text class="rb" transform="translate(575 0) rotate(90)">HN</text></g>
<g transform="rotate(219.82)"><text class="ld" transform="translate(518 0) rotate(180)">CLW204 BACAAB</text><text class="rb" transform="translate(575 0) rotate(90)">JX</text></g>
<g transform="rotate(229.05)"><text class="ld" transform="translate(518 0) rotate(180)">CLW174 BACAAB</text><text class="rb" transform="translate(575 0) rotate(90)">HN</text></g>
<g transform="rotate(238.28)"><text class="ld" transform="translate(518 0) rotate(180)">CLW081 BACAAB</text><text class="rb" transform="translate(575 0) rotate(90)">HN</text></g>
<g transform="rotate(247.51)"><text class="ld" transform="translate(518 0) rotate(180)">CLW071 BACAAB</text><text class="rb" transform="translate(575 0) rotate(90)">HN</text></g>
<g transform="rotate(256.74)"><text class="ld" transform="translate(518 0) rotate(180)">CLW203 BACAAB</text><text class="rb" transform="translate(575 0) rotate(90)">JX</text></g>
<g transform="rotate(265.97)"><text class="ld" transform="translate(518 0) rotate(180)">CLW287 GACAAn</text><text class="rb" transform="translate(575 0) rotate(90)">HB</text></g>
</g>
</g>

<g id="panel-e" transform="translate(3425 2078)">
<g stroke-width="40">
<circle class="cq" r="575"/>
<circle class="sc" r="575" pathLength="360" stroke-dasharray="144 720" transform="rotate(175)"/>
</g>
<g stroke-width="31">
<circle class="li" r="539"/>
<circle class="si" r="539" pathLength="360" stroke-dasharray="144 720" transform="rotate(31)"/>
</g>
<g id="leaves-e">
<g transform="rotate(-5)"><text class="lc r" transform="translate(521 0)">CLW247 AABAAA</text><text class="rb" transform="translate(575 0) rotate(90)">CQ</text></g>
<g transform="rotate(67)"><text class="lc r" transform="translate(521 0)">CLW434 AAAAAA</text><text class="rb" transform="translate(575 0) rotate(90)">CQ</text></g>
<g transform="rotate(139)"><text class="lc" transform="translate(521 0) rotate(180)">CLW433 AAAAAA</text><text class="rb" transform="translate(575 0) rotate(90)">CQ</text></g>
<g transform="rotate(211)"><text class="lc" transform="translate(521 0) rotate(180)">CLW431 BABADn</text><text class="rb" transform="translate(575 0) rotate(90)">SC</text></g>
<g transform="rotate(-77)"><text class="lc r" transform="translate(521 0)">CLW417 AABAAA</text><text class="rb" transform="translate(575 0) rotate(90)">SC</text></g>
</g>
</g>

<g id="connectors">
<g id="tree-a" class="br">
<path d="M867.5,352.6 L848.4,410 Q866,416 884.7,425.3"/>
<path d="M859.9,415.7 L840.7,471.2 M796.7,457.8 Q818,462 840.7,471.2"/>
<path d="M823.5,465.5 L806.3,521 M771.8,513.3 Q789,515 806.3,521"/>
<path d="M789,517 L775.7,574.6 Q747,571 718.3,572.6 L714.4,513.3 M704.9,511.4 L720.2,511.4 L716.4,450.2"/>
<path d="M752.7,572.6 L748.9,700 L738,748"/>
<path d="M693.4,574.6 L708.7,632 L714,634 M701,635.8 L718.3,697 L734,748"/>
<path d="M957.5,618.5 L888.6,658.7 L890.5,666.4 L947.9,639.6"/>
<path d="M781.96,712.43 L863.7,628.5 L858,620.5"/>
<path d="M863.7,628.5 A178,178 0 0 1 905.8,802.5 A240,240 0 0 1 844.6,965"/>
<path d="M808,655 A120,120 0 0 1 851.4,718 L905.8,701"/>
<path d="M764,700 L794.8,647.3 L806,655"/>
<path d="M736,751 L703,697 M736,751 L709,695 M736,751 L716,691.5 M736,751 L730,693 M736,751 L768,697 M736,751 L789,774"/>
<path d="M781.96,712.43 A60,60 0 1 1 677.78,765.52"/>
<path d="M913.4,729.8 L993.8,725.2 M913.4,741.2 L993.8,739.3 M913.4,762.3 L993.8,766.1"/>
<path d="M905.8,802.5 L965.1,819.7 L972.8,785.2 L1032.1,791 M1032.1,784 L1032.1,798 M968.9,806.3 L1028.3,817.8 M967,815.9 L1022.5,833.1 M907.7,919.2 L965.1,972.8"/>
<path d="M714.4,810 L699,863.7 M680,858 Q700,866 741.2,871.4 M726,871.4 L716.4,993.8 M752.7,812 L769.9,884.7 M749,812 L770,868"/>
<path d="M628,697 Q606,752 630,810 M536.3,718.3 L614.7,729.8 M536.3,733.6 L614.7,741.2 M536.3,712 L536.3,725 M618.6,777.6 L676,766.1 M630,810 L578.4,838.8"/>
<path d="M557.3,783.3 Q564,822 586,852.2 M486.5,825.4 L561.2,804.4 M570.7,829.3 L519,850.3 L515.2,858 L448.3,892.4 M586,852.2 L536.3,882.8 M533,878 L540,890"/>
<path d="M641.6,827.3 Q660,845 677.9,858 Q690,864 700,867.5 M677.9,858 L651.1,909.6 M646,906 L657,913"/>
</g>
<g id="tree-b" class="bt">
<path d="M2048.5,752.4 L2057,680.2 M2041.8,677.7 A75,75 0 0 1 2079.7,683.6"/>
<path d="M2048.5,752.4 L1814.5,928.2 M1991.3,1040.9 A294,294 0 0 1 1755.6,798 L1684,808.8 M1679.9,719.2 A371,371 0 0 0 1705.1,897.5"/>
<path d="M2048.5,752.4 L2220.3,889.2 M2260.7,816.2 A221,221 0 0 1 2111.7,963.8"/>
</g>
<g id="tree-c" class="bt">
<path d="M734.4,2072.1 L863.2,1855 M734.4,2072.1 L574.5,1977 M734.4,2072.1 L900.3,2149.6"/>
<path d="M914.9,2027.1 A186,186 0 0 1 779.4,2252.6 L780.9,2258.4 A192,192 0 0 1 701.1,2261.2 L699.8,2268.1 A199,199 0 0 1 620.3,2235.1 L616.8,2240 A205,205 0 0 1 556.9,2174.6 L551.7,2177.6 A211,211 0 0 1 525.5,2101.5 L518.5,2102.4 A218,218 0 0 1 519.8,2033.6 L373.2,2007.1"/>
<path d="M828.9,2235.8 A189,189 0 0 1 676,2251.8 M716.8,2273.3 A202,202 0 0 1 591.6,2214.9"/>
</g>
<g id="tree-d" class="br">
<path d="M1761.6,1926.7 L1746,1978 M1755,1951 L1779.5,1960 A314,314 0 0 0 1768.3,2087.4 M1768.3,2040.5 L1851,2045 A229,229 0 0 0 1874.5,2155.7"/>
<path d="M1857.7,2101 L1883,2096.8 L1895.6,2136.8 L1920.8,2174.7 L2076.5,2052.6 M1920.8,2174.7 A198,198 0 0 0 1986,2229.4 L1963,2280"/>
<path d="M1891.4,2229.4 A258,258 0 0 0 1994.5,2294.6 M1891.4,2229.4 L1870.3,2248.3"/>
<path d="M1874.5,2155.7 L1826.1,2181 L1840.9,2212.6 M1826.1,2181 L1811.4,2151.5 L1758.8,2166.3 L1750.4,2143 M1758.8,2166.3 L1767.2,2193.6 L1742,2206.2"/>
<path d="M2080,2052 L2099,1972 M2092,1996 L2086,1998 M2080,2052 L2076,2005 M2080,2052 L2134.7,2044 M2134.7,2032 L2134.7,2061 M2080,2052 L2097,2074 L2128,2084 M2126,2078 L2131,2090 M2080,2052 L2086,2109 M2080,2052 L2100,2036 M2058,2040 A25,25 0 0 1 2098,2037"/>
</g>
<g id="tree-e" class="bt">
<path d="M3427,2078 L3209.8,1951.8 M3427,2078 L3337.7,2440 M3142.5,2313.7 A371,371 0 0 0 3570,2420.6"/>
</g>
</g>
</svg>
